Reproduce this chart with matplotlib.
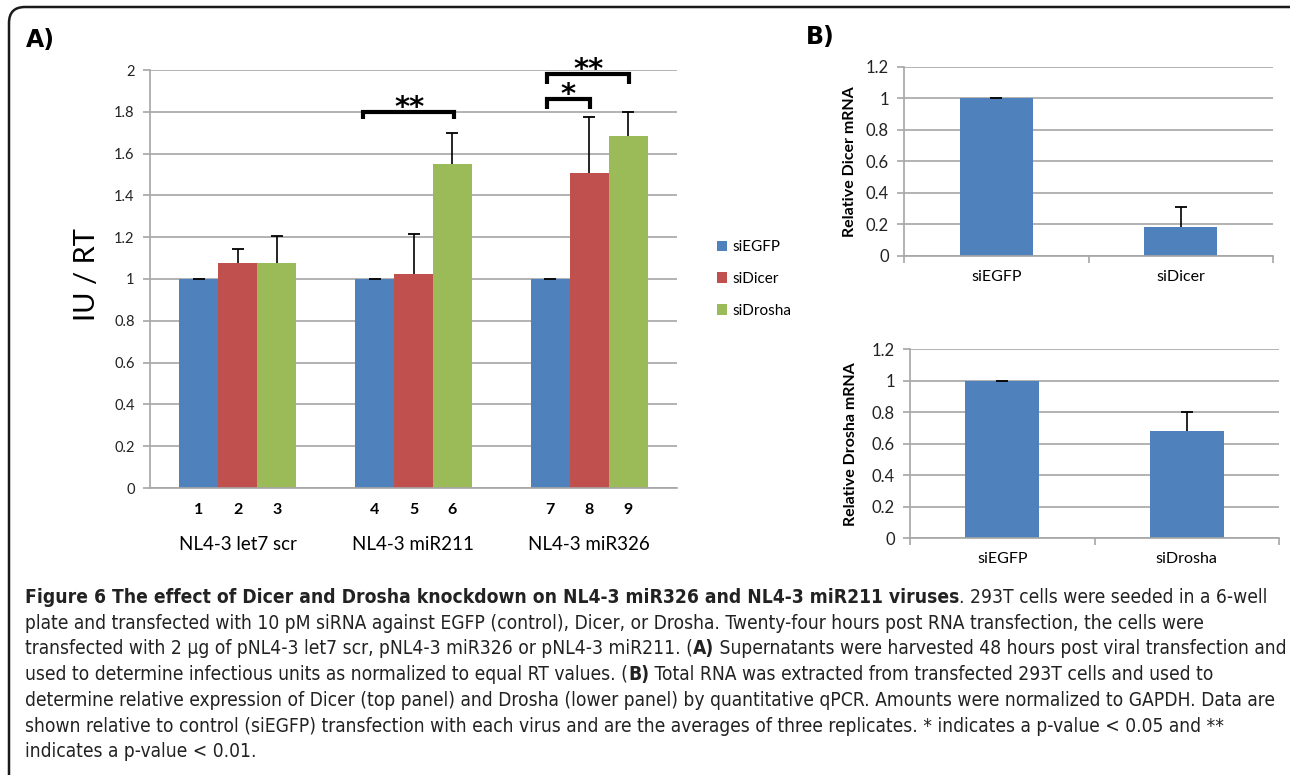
import matplotlib
matplotlib.use('Agg')
import matplotlib.pyplot as plt
import numpy as np
from matplotlib.patches import Patch, FancyBboxPatch
from matplotlib import font_manager as fm

plt.rcParams['font.family'] = ['Lato', 'DejaVu Sans']

W, H = 1290, 775

# ---------------- datos panel A ----------------
grupos = ['NL4-3 let7 scr', 'NL4-3 miR211', 'NL4-3 miR326']
series = ['siEGFP', 'siDicer', 'siDrosha']
colores = ['#4F81BD', '#C0504D', '#9BBB59']
valores = [[1.0, 1.0, 1.0],        # siEGFP
           [1.075, 1.023, 1.507],  # siDicer
           [1.075, 1.55, 1.685]]   # siDrosha
errores = [[0.0, 0.0, 0.0],
           [0.07, 0.19, 0.27],
           [0.13, 0.15, 0.115]]
numeros = ['1', '2', '3', '4', '5', '6', '7', '8', '9']

# ---------------- datos panel B ----------------
dicer_cat = ['siEGFP', 'siDicer']
dicer_val = [1.0, 0.186]
dicer_err = [0.0, 0.127]
drosha_cat = ['siEGFP', 'siDrosha']
drosha_val = [1.0, 0.681]
drosha_err = [0.0, 0.123]

GRIS = '#A6A6A6'

fig = plt.figure(figsize=(W / 100, H / 100), dpi=100)

# fondo y marco redondeado
bg = fig.add_axes([0, 0, 1, 1])
bg.set_xlim(0, W)
bg.set_ylim(H, 0)
bg.axis('off')
bg.add_patch(FancyBboxPatch((9, 7), 1320, 820, boxstyle='round,pad=0,rounding_size=16',
                            fc='none', ec='#1a1a1a', lw=1.8))


def estilo_eje(ax, tsize):
    for s in ['top', 'right']:
        ax.spines[s].set_visible(False)
    ax.spines['left'].set_color(GRIS)
    ax.spines['bottom'].set_color(GRIS)
    ax.spines['left'].set_linewidth(1.2)
    ax.spines['bottom'].set_linewidth(1.2)
    ax.yaxis.grid(True, color=GRIS, linewidth=1.2)
    ax.set_axisbelow(True)
    ax.tick_params(axis='y', direction='out', length=5, color=GRIS, width=1.2,
                   labelsize=tsize, pad=6, labelcolor='#222222')


def barras_error(ax, pos, vals, errs):
    tops = np.array(vals) + np.array(errs)
    ax.vlines(pos, vals, tops, color='black', lw=1.2, zorder=3)
    ax.plot(pos, tops, ls='none', marker='_', ms=8, mew=1.3, color='black', zorder=3)


# ---------------- PANEL A ----------------
ax = fig.add_axes([150 / W, 1 - 488 / H, 527 / W, 418 / H])
estilo_eje(ax, 10.5)
ancho = 0.222
x = np.arange(len(grupos))
for i in range(len(series)):
    pos = x + (i - 1) * ancho
    ax.bar(pos, valores[i], ancho, color=colores[i], edgecolor='none', zorder=2)
    barras_error(ax, pos, valores[i], errores[i])
ax.set_xlim(-0.5, 2.5)
ax.set_ylim(0, 2)
yt = np.arange(0, 2.01, 0.2)
ax.set_yticks(yt)
ax.set_yticklabels(['%g' % round(v, 1) for v in yt])
ax.set_xticks([])
ax.set_ylabel('IU / RT', fontsize=21)
ax.yaxis.set_label_coords(-0.095, 0.51)

# numeros debajo de las barras
k = 0
for g in range(len(grupos)):
    for i in range(len(series)):
        ax.text(g + (i - 1) * ancho, -0.052, numeros[k], transform=ax.get_xaxis_transform(),
                ha='center', va='center', fontsize=11.5, fontweight='bold')
        k += 1
for g in range(len(grupos)):
    ax.text(g, -0.136, grupos[g], transform=ax.get_xaxis_transform(),
            ha='center', va='center', fontsize=13.5)

# corchetes de significancia
def corchete(x1, x2, y_top, y_bot, txt, tx, ty):
    ax.plot([x1, x1, x2, x2], [y_bot, y_top, y_top, y_bot], color='black', lw=3,
            solid_capstyle='butt', solid_joinstyle='miter', clip_on=False, zorder=4)
    ax.text(tx, ty, txt, ha='center', va='center', fontsize=21, fontweight='bold',
            clip_on=False, family='DejaVu Sans')

corchete(0.715, 1.228, 1.80, 1.765, '**', 0.977, 1.82)
corchete(1.76, 2.006, 1.86, 1.815, '*', 1.88, 1.88)
corchete(1.76, 2.228, 1.98, 1.935, '**', 1.995, 2.0)

handles = [Patch(facecolor=c, edgecolor='none') for c in colores]
fig.legend(handles, series, loc='center left', bbox_to_anchor=(703 / W, 1 - 279 / H),
           frameon=False, fontsize=11, handlelength=0.7, handleheight=0.7,
           handletextpad=0.3, labelspacing=1.15)

fig.text(26 / W, 1 - 40 / H, 'A)', fontsize=17, fontweight='bold', va='center',
         family='DejaVu Sans')
fig.text(806 / W, 1 - 37 / H, 'B)', fontsize=17, fontweight='bold', va='center',
         family='DejaVu Sans')


# ---------------- PANEL B ----------------
def panel_b(rect, cats, vals, errs, ylab, labx):
    axb = fig.add_axes(rect)
    estilo_eje(axb, 12)
    xb = np.arange(len(cats))
    axb.bar(xb, vals, 0.4, color=colores[0], edgecolor='none', zorder=2)
    barras_error(axb, xb, vals, errs)
    axb.set_xlim(-0.5, len(cats) - 0.5)
    axb.set_ylim(0, 1.2)
    ytb = np.arange(0, 1.21, 0.2)
    axb.set_yticks(ytb)
    axb.set_yticklabels(['%g' % round(v, 1) for v in ytb])
    axb.set_xticks(xb)
    axb.set_xticklabels(cats, fontsize=11.5)
    axb.set_xticks(np.arange(-0.5, len(cats)), minor=True)
    axb.tick_params(axis='x', which='major', length=0, pad=10)
    axb.tick_params(axis='x', which='minor', length=5, color=GRIS, width=1.2, direction='out')
    axb.set_ylabel(ylab, fontsize=11.5, fontweight='bold')
    axb.yaxis.set_label_coords(labx, 0.5)
    return axb

panel_b([904.3 / W, 1 - 256 / H, 368.4 / W, 189.3 / H], dicer_cat, dicer_val, dicer_err,
        'Relative Dicer mRNA', -0.128)
panel_b([910 / W, 1 - 538.3 / H, 369 / W, 189 / H], drosha_cat, drosha_val, drosha_err,
        'Relative Drosha mRNA', -0.141)

# ---------------- LEYENDA DE LA FIGURA ----------------
# fuente estrecha si existe
cap_font, cap_stretch = ['Liberation Sans', 'DejaVu Sans'], 'normal'
try:
    f = fm.findfont(fm.FontProperties(family='Liberation Sans Narrow'), fallback_to_default=False)
    cap_font = ['Liberation Sans Narrow', 'DejaVu Sans']
except ValueError:
    f = fm.findfont(fm.FontProperties(family='DejaVu Sans', stretch='condensed'))
    if 'Condensed' in f:
        cap_font, cap_stretch = ['DejaVu Sans', 'Noto Sans'], 'condensed'

lineas = [
    [('Figure 6 The effect of Dicer and Drosha knockdown on NL4-3 miR326 and NL4-3 miR211 viruses', 'bold'),
     ('. 293T cells were seeded in a 6-well', 'normal')],
    [('plate and transfected with 10 pM siRNA against EGFP (control), Dicer, or Drosha. Twenty-four hours post RNA transfection, the cells were', 'normal')],
    [('transfected with 2 \u00b5g of pNL4-3 let7 scr, pNL4-3 miR326 or pNL4-3 miR211. (', 'normal'),
     ('A)', 'bold'),
     (' Supernatants were harvested 48 hours post viral transfection and', 'normal')],
    [('used to determine infectious units as normalized to equal RT values. (', 'normal'),
     ('B)', 'bold'),
     (' Total RNA was extracted from transfected 293T cells and used to', 'normal')],
    [('determine relative expression of Dicer (top panel) and Drosha (lower panel) by quantitative qPCR. Amounts were normalized to GAPDH. Data are', 'normal')],
    [('shown relative to control (siEGFP) transfection with each virus and are the averages of three replicates. * indicates a p-value < 0.05 and **', 'normal')],
    [('indicates a p-value < 0.01.', 'normal')],
]
y0 = 603
textos = []
for n, piezas in enumerate(lineas):
    yb = H - (y0 + n * 25.7)
    prev = None
    for txt, peso in piezas:
        if prev is None:
            prev = bg.annotate(txt, xy=(25, yb), xycoords='figure pixels', ha='left',
                               va='baseline', fontsize=13, fontweight=peso,
                               family=cap_font, stretch=cap_stretch, color='#222222')
        else:
            prev = bg.annotate(txt, xy=(1, yb), xycoords=(prev, 'figure pixels'), ha='left',
                               va='baseline', fontsize=13, fontweight=peso,
                               family=cap_font, stretch=cap_stretch, color='#222222')
        textos.append(prev)

# ajustar tamaño para que la linea 5 termine cerca de x=1275
fig.canvas.draw()
r = fig.canvas.get_renderer()
ancho5 = [t for t in textos if t.get_text().startswith('determine')][0].get_window_extent(r).width
tam = 13 * (1275 - 25) / ancho5
for t in textos:
    t.set_fontsize(tam)

fig.savefig('out.png', dpi=100)
